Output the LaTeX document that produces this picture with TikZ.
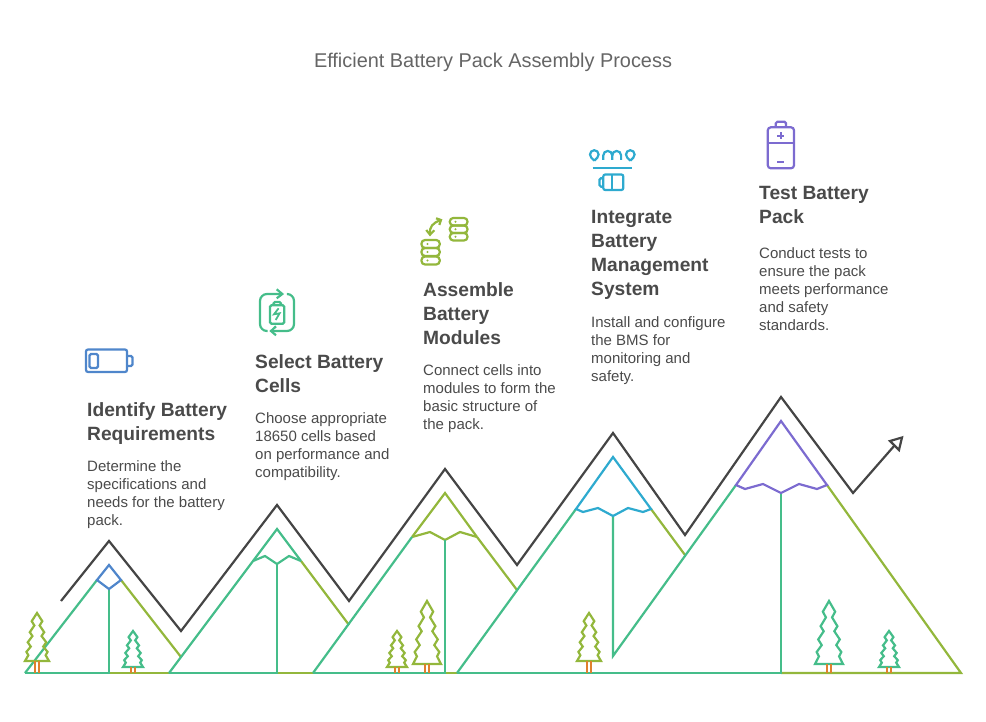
\documentclass[tikz,border=0pt]{standalone}
\usepackage{fontspec}
\setmainfont{Liberation Sans}
\definecolor{peakgreen}{HTML}{45BD8A}
\definecolor{peakolive}{HTML}{93B73C}
\definecolor{peakblue}{HTML}{4F86CB}
\definecolor{peakcyan}{HTML}{2EAACF}
\definecolor{peakpurple}{HTML}{7C6BD0}
\definecolor{peakdark}{HTML}{454545}
\definecolor{trunkorange}{HTML}{E0802E}
\definecolor{textgray}{HTML}{4A4A4A}
\newcommand{\pine}[5]{% x, top, base, half width, colour
        \draw[color=#5, line width=2.2pt, line join=miter] (#1,#2) -- ++(.44*#4,.17*#3-.17*#2) -- ++(-.22*#4,.09*#3-.09*#2)
                -- ++(.38*#4,.14*#3-.14*#2) -- ++(-.22*#4,.08*#3-.08*#2) -- ++(.39*#4,.13*#3-.13*#2) -- ++(-.25*#4,.09*#3-.09*#2)
                -- ++(.36*#4,.11*#3-.11*#2) -- ++(-.16*#4,.07*#3-.07*#2) -- ++(.28*#4,.12*#3-.12*#2)
                -- ++(-2*#4,0)
                -- ++(.28*#4,-.12*#3+.12*#2) -- ++(-.16*#4,-.07*#3+.07*#2) -- ++(.36*#4,-.11*#3+.11*#2) -- ++(-.25*#4,-.09*#3+.09*#2)
                -- ++(.39*#4,-.13*#3+.13*#2) -- ++(-.22*#4,-.08*#3+.08*#2) -- ++(.38*#4,-.14*#3+.14*#2) -- ++(-.22*#4,-.09*#3+.09*#2) -- cycle;
        \draw[trunkorange, line width=2pt] (#1-2.2,#3) -- (#1-2.2,673) (#1+2.2,#3) -- (#1+2.2,673);
}
\tikzset{
        titletext/.style = {font=\fontsize{19.9}{22}\selectfont, text=textgray!85!white, inner sep=0pt},
        blockhead/.style = {font=\fontsize{19.2}{24}\selectfont\bfseries, text=textgray, align=left, anchor=north west, inner sep=0pt},
        blockbody/.style = {font=\fontsize{15}{18}\selectfont, text=textgray, align=left, anchor=north west, inner sep=0pt},
        peak/.style = {line width=2.2pt, line join=miter},
        icon/.style = {line width=2.2pt, rounded corners=1.5pt}
}
\begin{document}
\begin{tikzpicture}[x=1pt, y=-1pt]
        \useasboundingbox (0,0) rectangle (986,722);
        \node[titletext] (title) at (493,62.5) {Efficient Battery Pack Assembly Process};

        % ridge line above the peaks
        \draw[peakdark, line width=2.2pt, line join=miter]
                (61,601) -- (109,541) -- (181,631) -- (277,505) -- (349,601) -- (445,469) -- (517,565)
                -- (613,433) -- (685,535) -- (781,397) -- (853,493) -- (894.5,445.5);
        \draw[peakdark, line width=2.2pt, line join=miter] (890,441) -- (902,437.5) -- (899,450) -- cycle;

        % olive parts
        \draw[peak, peakolive] (121,580) -- (181,657);
        \draw[peak, peakolive] (301,561) -- (349,625);
        \draw[peak, peakolive] (477,537) -- (517,590);
        \draw[peak, peakolive] (651,509) -- (685,555);
        \draw[peak, peakolive] (827,485) -- (961,673) -- (781,673);
        \draw[peak, peakolive] (109,673) -- (169,673);
        \draw[peak, peakolive] (277,673) -- (313,673);
        \draw[peak, peakolive] (445,673) -- (457,673);
        \draw[peak, peakolive] (412,537) -- (445,493) -- (477,537);
        \draw[peak, peakolive] (412,537) -- (430,532) -- (445,540) -- (460,532) -- (477,537);

        % green parts
        \draw[peak, peakgreen] (25,673) -- (109,673) -- (109,589);
        \draw[peak, peakgreen] (25,673) -- (97,580);
        \draw[peak, peakgreen] (169,673) -- (277,673) -- (277,564);
        \draw[peak, peakgreen] (169,673) -- (253,561) -- (277,529) -- (301,561);
        \draw[peak, peakgreen] (253,561) -- (265,556) -- (277,564) -- (289,556) -- (301,561);
        \draw[peak, peakgreen] (313,673) -- (445,673) -- (445,540);
        \draw[peak, peakgreen] (313,673) -- (412,537);
        \draw[peak, peakgreen] (457,673) -- (781,673) -- (781,493);
        \draw[peak, peakgreen] (457,673) -- (576,509);
        \draw[peak, peakgreen] (613,516) -- (613,656) -- (736,485);

        % peak tops
        \draw[peak, peakblue] (109,565) -- (121,580) -- (109,589) -- (97,580) -- cycle;
        \draw[peak, peakcyan] (576,509) -- (613,457) -- (651,509) -- (643,512) -- (628,508) -- (613,516) -- (598,508) -- (583,512) -- cycle;
        \draw[peak, peakpurple] (736,485) -- (781,421) -- (827,485) -- (817,489) -- (799,484) -- (781,493) -- (763,484) -- (745,489) -- cycle;

        % trees
        \pine{37}{613}{661}{12}{peakolive}
        \pine{133}{631}{667}{10}{peakgreen}
        \pine{397}{631}{667}{10}{peakolive}
        \pine{427}{601}{664}{14}{peakolive}
        \pine{589}{613}{661}{12}{peakolive}
        \pine{829}{601}{664}{14}{peakgreen}
        \pine{889}{631}{667}{10}{peakgreen}

        % battery icon
        \draw[icon, peakblue, rounded corners=2pt] (86,349.5) rectangle (127,372);
        \draw[icon, peakblue] (127,356) -- (132.5,356) -- (132.5,366) -- (127,366);
        \draw[icon, peakblue] (89.5,354) rectangle (98,368);

        % swap icon
        \begin{scope}[icon, peakgreen]
                \draw[rounded corners=7pt] (282,294) -- (260,294) -- (260,331) -- (267.7,331);
                \draw[rounded corners=7pt] (271,331) -- (294,331) -- (294,294) -- (287.3,294);
                \draw[rounded corners=0pt] (276.7,289.3) -- (282.3,294) -- (276.7,298.3);
                \draw[rounded corners=0pt] (276,326.3) -- (271,331) -- (276,335.3);
                \draw (270,305.3) rectangle (284.3,323.7);
                \draw (273.5,305.3) -- (273.5,302) -- (281,302) -- (281,305.3);
                \draw[rounded corners=0pt, line width=1.8pt] (278.6,308.3) -- (274,314.3) -- (279.6,313.3) -- (275.7,320);
        \end{scope}

        % stacks icon
        \begin{scope}[icon, peakolive, rounded corners=3.5pt]
                \foreach \rowy in {218,225.5,233}{
                        \draw (449.8,\rowy) rectangle (467.5,\rowy+7.5);
                        \fill (455.5,\rowy+3.75) circle (1.1pt);
                }
                \foreach \rowy in {240,248,256.5}{
                        \draw (421.5,\rowy) rectangle (439.7,\rowy+8);
                        \fill (427.5,\rowy+4) circle (1.1pt);
                }
                \draw (430,234) .. controls (429,227) and (433,222.5) .. (440.7,220.3);
                \draw[rounded corners=0pt] (426.3,230) -- (430,234.7) -- (434.3,230.3);
                \draw[rounded corners=0pt] (436,218.3) -- (441,220) -- (439.3,225);
        \end{scope}

        % system icon
        \begin{scope}[icon, peakcyan]
                \draw[sharp corners] (594.3,160.7) .. controls (592,158.5) and (590,157) .. (590,154.5) arc[start angle=180, end angle=360, radius=4.3] .. controls (598.6,157) and (596.6,158.5) .. (594.3,160.7);
                \draw[sharp corners] (630.3,160.7) .. controls (628,158.5) and (626,157) .. (626,154.5) arc[start angle=180, end angle=360, radius=4.3] .. controls (634.6,157) and (632.6,158.5) .. (630.3,160.7);
                \draw[sharp corners] (603.3,160) -- (603.3,155.4) arc[start angle=180, end angle=360, radius=4.45] -- (612.2,160);
                \draw[sharp corners] (612.2,155.4) arc[start angle=180, end angle=360, radius=4.45] -- (621.1,160);
                \draw (592.7,168.3) -- (632.3,168.3);
                \draw[rounded corners=2pt] (603.3,174.5) rectangle (623.3,190);
                \draw (603.3,178.3) -- (599.5,178.3) -- (599.5,186.7) -- (603.3,186.7);
                \draw (612,174.5) -- (612,190);
        \end{scope}

        % test cell icon
        \begin{scope}[icon, peakpurple]
                \draw[rounded corners=3pt] (767.8,127.3) rectangle (794,168.3);
                \draw (775.8,127.3) -- (775.8,121.8) -- (786,121.8) -- (786,127.3);
                \draw (767.8,143.3) -- (794,143.3);
                \draw (777.2,136) -- (784.2,136) (780.7,132.5) -- (780.7,139.5);
                \draw (777.3,161.7) -- (784,161.7);
        \end{scope}

        % text blocks
        \node[blockhead] (identifyhead) at (87,402) {Identify Battery\\Requirements};
        \node[blockbody] (identifybody) at (87,460) {Determine the\\specifications and\\needs for the battery\\pack.};
        \node[blockhead] (selecthead) at (255,354) {Select Battery\\Cells};
        \node[blockbody] (selectbody) at (255,412) {Choose appropriate\\18650 cells based\\on performance and\\compatibility.};
        \node[blockhead] (assemblehead) at (423,282) {Assemble\\Battery\\Modules};
        \node[blockbody] (assemblebody) at (423,364) {Connect cells into\\modules to form the\\basic structure of\\the pack.};
        \node[blockhead] (integratehead) at (591,210) {Integrate\\Battery\\Management\\System};
        \node[blockbody] (integratebody) at (591,316) {Install and configure\\the BMS for\\monitoring and\\safety.};
        \node[blockhead] (testhead) at (759,186) {Test Battery\\Pack};
        \node[blockbody] (testbody) at (759,247) {Conduct tests to\\ensure the pack\\meets performance\\and safety\\standards.};
\end{tikzpicture}
\end{document}
